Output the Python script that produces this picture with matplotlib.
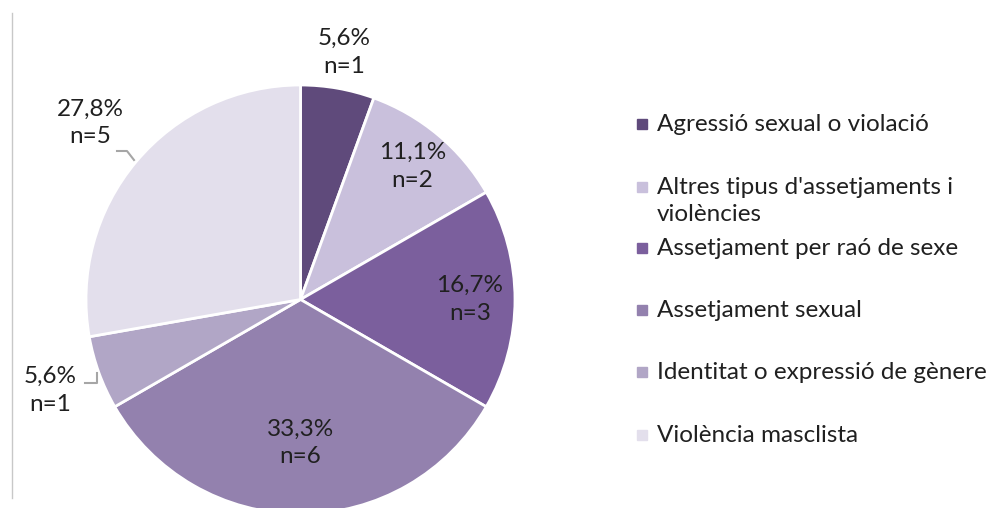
import matplotlib.pyplot as plt
import numpy as np
from matplotlib.patches import Rectangle
from matplotlib.lines import Line2D

plt.rcParams['font.family'] = ['Lato', 'DejaVu Sans']

# dades
categories = ["Agressió sexual o violació",
              "Altres tipus d'assetjaments i\nviolències",
              "Assetjament per raó de sexe",
              "Assetjament sexual",
              "Identitat o expressió de gènere",
              "Violència masclista"]
counts = [1, 2, 3, 6, 1, 5]
pct_labels = ["5,6%", "11,1%", "16,7%", "33,3%", "5,6%", "27,8%"]
colors = ["#5f4a7b", "#c9c0dc", "#7b5f9d", "#9381ae", "#b1a6c6", "#e3dfec"]

# distància de l'etiqueta al centre (en radis)
label_r = [1.17, 0.81, 0.79, 0.67, 1.24, 1.28]

W, H = 996, 508
fig = plt.figure(figsize=(W / 100, H / 100), dpi=100)

# eix del pastís (en píxels: x 85.5-515.5, y 85-515 des de dalt)
cx, cy, R = 300.5, 299.5, 214.5
ax = fig.add_axes([(cx - R) / W, (H - cy - R) / H, 2 * R / W, 2 * R / H])
wedges, _ = ax.pie(counts, colors=colors, startangle=90, counterclock=False,
                   radius=1, wedgeprops=dict(edgecolor='white', linewidth=2))
ax.set_xlim(-1, 1)
ax.set_ylim(-1, 1)
ax.set_aspect('equal')
ax.axis('off')

txt_color = '#202020'
fs = 17.5
for i, w in enumerate(wedges):
    ang = np.deg2rad((w.theta1 + w.theta2) / 2)
    x = label_r[i] * np.cos(ang)
    y = label_r[i] * np.sin(ang)
    ax.text(x, y, f"{pct_labels[i]}\nn={counts[i]}", ha='center', va='center',
            fontsize=fs, color=txt_color, linespacing=1.38, clip_on=False)

# línies guia (coordenades en píxels)
def px(xp, yp):
    return ((xp - cx) / R, (cy - yp) / R)

lead_col = '#a6a6a6'
for pts in ([(117, 151), (127, 151), (134, 160)],
            [(85, 383), (97, 383), (97, 373)]):
    xy = np.array([px(*p) for p in pts])
    ax.add_line(Line2D(xy[:, 0], xy[:, 1], color=lead_col, lw=1.5, clip_on=False))

# línia vertical a l'esquerra
fig.add_artist(Line2D([11.5 / W, 11.5 / W], [1 - 13 / H, 1 - 498 / H],
                      color='#c8c8c8', lw=1))

# llegenda
row_y = [124, 187, 248, 310, 372, 435]
for i, lab in enumerate(categories):
    yy = 1 - row_y[i] / H
    fig.add_artist(Rectangle((637 / W, yy - 5 / H), 10 / W, 10 / H,
                             color=colors[i], transform=fig.transFigure))
    fig.text(657 / W, yy + 10 / H, lab, ha='left', va='top', fontsize=fs,
             color=txt_color, linespacing=1.35)

fig.savefig('out.png', dpi=100)
